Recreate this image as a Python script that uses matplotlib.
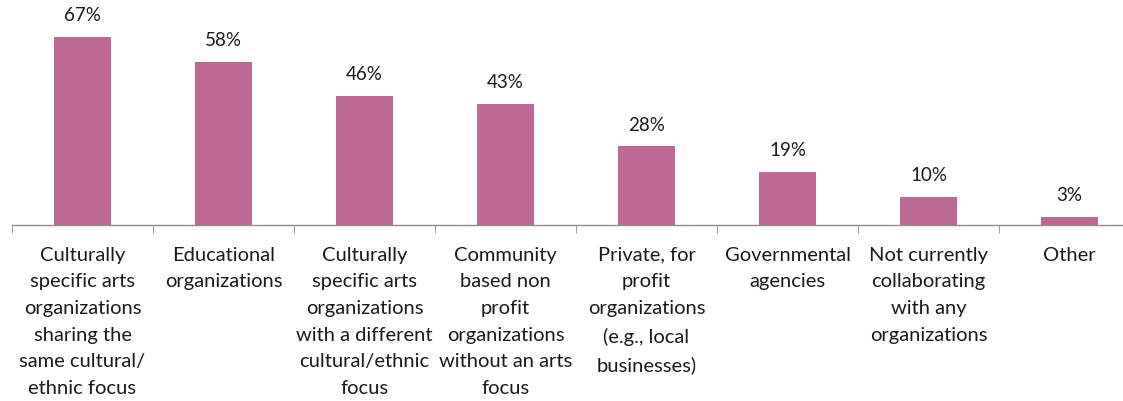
import matplotlib
matplotlib.use("Agg")
import matplotlib.pyplot as plt

categories = [
    "Culturally\nspecific arts\norganizations\nsharing the\nsame cultural/\nethnic focus",
    "Educational\norganizations",
    "Culturally\nspecific arts\norganizations\nwith a different\ncultural/ethnic\nfocus",
    "Community\nbased non\nprofit\norganizations\nwithout an arts\nfocus",
    "Private, for\nprofit\norganizations\n(e.g., local\nbusinesses)",
    "Governmental\nagencies",
    "Not currently\ncollaborating\nwith any\norganizations",
    "Other",
]
values = [67, 58, 46, 43, 28, 19, 10, 3]
value_labels = ["67%", "58%", "46%", "43%", "28%", "19%", "10%", "3%"]

plt.rcParams['font.family'] = ['Lato', 'DejaVu Sans']

W, H = 1123, 402
fig = plt.figure(figsize=(W / 100, H / 100), dpi=100)
left_px, right_px = 12, 1140
axis_y_px = 226
px_per_unit = 2.806
ymax = 80
ax = fig.add_axes([left_px / W, (H - axis_y_px) / H, (right_px - left_px) / W, ymax * px_per_unit / H])

bar_color = "#BE6896"
x = list(range(len(values)))
ax.bar(x, values, width=0.4, color=bar_color, zorder=2)
ax.set_xlim(-0.5, len(values) - 0.5)
ax.set_ylim(0, ymax)

for xi, v, lab in zip(x, values, value_labels):
    ax.annotate(lab, (xi, v), xytext=(0, 10), textcoords="offset points",
                ha="center", va="bottom", fontsize=13.5, color="#1a1a1a")

for s in ["top", "right", "left"]:
    ax.spines[s].set_visible(False)
ax.spines["bottom"].set_color("#8c8c8c")
ax.spines["bottom"].set_linewidth(1.0)
ax.set_yticks([])

ax.set_xticks(x)
ax.set_xticklabels(categories, fontsize=14.5, color="#1a1a1a", linespacing=1.69)
ax.tick_params(axis="x", which="major", length=0, pad=15)
ax.set_xticks([i - 0.5 for i in range(len(values) + 1)], minor=True)
ax.tick_params(axis="x", which="minor", length=6, color="#8c8c8c", direction="out")
for t in ax.get_xticklabels():
    t.set_verticalalignment("top")

fig.savefig("out.png", dpi=100)
